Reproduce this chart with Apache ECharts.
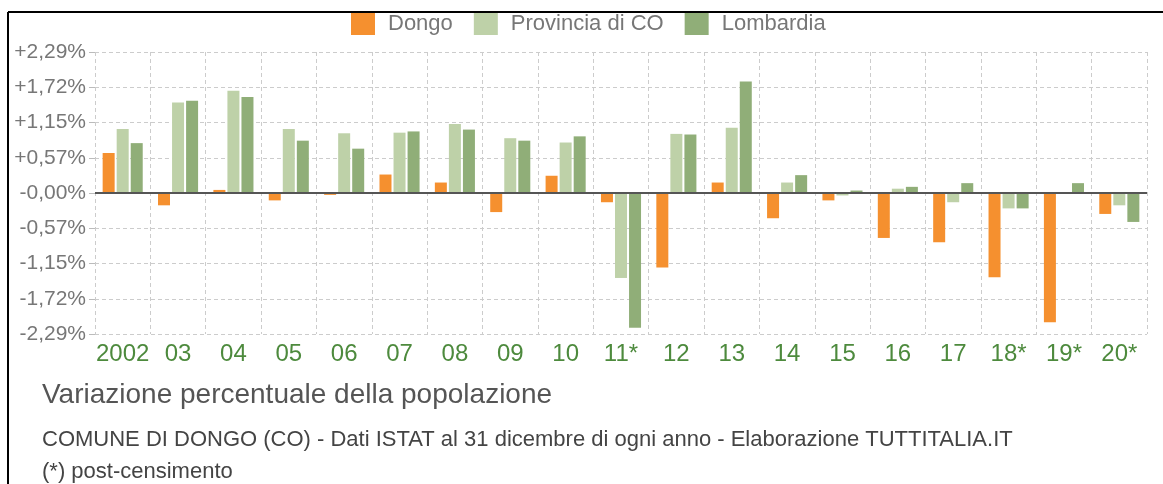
<!DOCTYPE html>
<html>
<head>
<meta charset="utf-8">
<script src="https://cdn.jsdelivr.net/npm/echarts@6/dist/echarts.min.js"></script>
<style>
  html, body { margin: 0; padding: 0; background: #fff; }
  #chart { width: 1163px; height: 484px; }
</style>
</head>
<body>
<div id="chart"></div>
<script>
// anni (con * = post-censimento)
var years = ['2002', '03', '04', '05', '06', '07', '08', '09', '10', '11*', '12', '13', '14', '15', '16', '17', '18*', '19*', '20*']

// variazione percentuale annua
var dongo     = [0.65, -0.20, 0.05, -0.12, -0.03, 0.30, 0.17, -0.31, 0.28, -0.15, -1.21, 0.17, -0.41, -0.12, -0.73, -0.80, -1.37, -2.10, -0.34]
var provincia = [1.04, 1.47, 1.66, 1.04, 0.97, 0.98, 1.12, 0.89, 0.82, -1.38, 0.96, 1.06, 0.17, -0.04, 0.07, -0.15, -0.25, -0.01, -0.20]
var lombardia = [0.81, 1.50, 1.56, 0.85, 0.72, 1.00, 1.03, 0.85, 0.92, -2.19, 0.95, 1.81, 0.29, 0.04, 0.10, 0.16, -0.25, 0.16, -0.47]

var seriesNames = ['Dongo', 'Provincia di CO', 'Lombardia']
var colors = ['#f5902f', '#bed1a8', '#90ae78']

// etichette asse y
var yMin = -2.29
var yStep = 0.5725
var yLabels = ['-2,29%', '-1,72%', '-1,15%', '-0,57%', '-0,00%', '+0,57%', '+1,15%', '+1,72%', '+2,29%']

var chart = echarts.init(document.getElementById('chart'))

function barSeries(name, data, color, withZero) {
  var s = {
    name: name,
    type: 'bar',
    data: data,
    barWidth: 12,
    barGap: '17%',
    itemStyle: { color: color },
    emphasis: { disabled: true },
    z: 2
  }
  if (withZero) {
    // linea dello zero
    s.markLine = {
      silent: true,
      symbol: 'none',
      label: { show: false },
      lineStyle: { color: '#555', width: 2, type: 'solid' },
      data: [{ yAxis: 0 }],
      z: 5
    }
  }
  return s
}

chart.setOption({
  animation: false,
  textStyle: { fontFamily: 'Liberation Sans, Arial, sans-serif' },
  title: [
    {
      text: 'Variazione percentuale della popolazione',
      left: 37, top: 376,
      textStyle: { fontSize: 28, fontWeight: 'normal', color: '#555' }
    },
    {
      text: 'COMUNE DI DONGO (CO) - Dati ISTAT al 31 dicembre di ogni anno - Elaborazione TUTTITALIA.IT',
      left: 37, top: 424,
      textStyle: { fontSize: 22, fontWeight: 'normal', color: '#444' }
    },
    {
      text: '(*) post-censimento',
      left: 37, top: 456,
      textStyle: { fontSize: 22, fontWeight: 'normal', color: '#444' }
    }
  ],
  legend: {
    top: 7,
    left: 346,
    itemWidth: 24,
    itemHeight: 23,
    itemGap: 21,
    icon: 'rect',
    textStyle: { fontSize: 22, color: '#777', padding: [0, 0, 0, 8] },
    data: seriesNames
  },
  grid: { left: 95, right: 16, top: 52, bottom: 150 },
  xAxis: {
    type: 'category',
    data: years,
    axisLine: { show: false },
    axisTick: { show: false },
    axisLabel: { interval: 0, fontSize: 24, color: '#4d8a3d', margin: 8 },
    splitLine: { show: true, interval: 0, lineStyle: { color: '#ccc', type: [4, 3] } }
  },
  yAxis: {
    type: 'value',
    min: yMin,
    max: -yMin,
    interval: yStep,
    axisLine: { show: false },
    axisTick: { show: true, length: 6, lineStyle: { color: '#bbb' } },
    axisLabel: {
      fontSize: 21,
      color: '#777',
      margin: 9,
      formatter: function (v) {
        return yLabels[Math.round((v - yMin) / yStep)]
      }
    },
    splitLine: { lineStyle: { color: '#ccc', type: [4, 3] } }
  },
  graphic: [
    { type: 'line', shape: { x1: 8, y1: 12, x2: 1163, y2: 12 }, style: { stroke: '#000', lineWidth: 2 }, z: 100 },
    { type: 'line', shape: { x1: 8, y1: 12, x2: 8, y2: 484 }, style: { stroke: '#000', lineWidth: 2 }, z: 100 }
  ],
  series: [
    barSeries(seriesNames[0], dongo, colors[0], true),
    barSeries(seriesNames[1], provincia, colors[1], false),
    barSeries(seriesNames[2], lombardia, colors[2], false)
  ]
})
</script>
</body>
</html>
